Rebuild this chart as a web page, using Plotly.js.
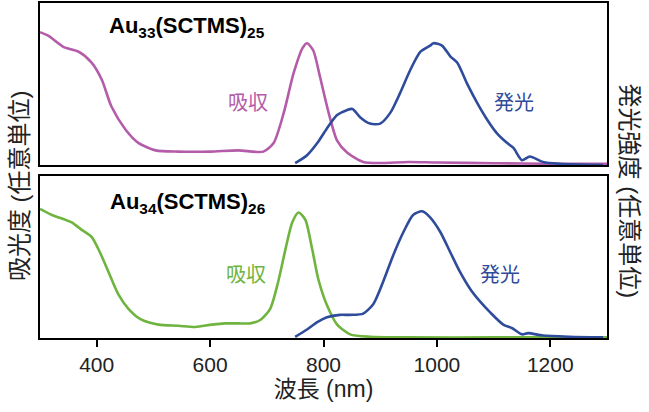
<!DOCTYPE html>
<html>
<head>
<meta charset="utf-8">
<script src="https://cdn.plot.ly/plotly-3.0.1.min.js"></script>
<style>
  html, body { margin: 0; padding: 0; background: #ffffff; }
  #chart { width: 649px; height: 412px; }
</style>
</head>
<body>
<div id="chart"></div>
<script>
// Au33(SCTMS)25 (top panel), normalised intensities
const au33AbsWl = [300, 315, 341, 368, 391, 409, 426, 451, 474, 504, 544, 600, 650, 694, 712, 730, 747, 763, 771, 782, 794, 809, 824, 842, 870, 900, 950, 1000, 1100, 1200, 1300];
const au33AbsVal = [1.09, 1.06, 0.97, 0.93, 0.84, 0.70, 0.48, 0.29, 0.18, 0.12, 0.11, 0.11, 0.12, 0.11, 0.18, 0.43, 0.75, 0.96, 1.00, 0.94, 0.72, 0.43, 0.20, 0.10, 0.025, 0.016, 0.025, 0.02, 0.015, 0.01, 0.01];
const au33EmWl = [750, 771, 789, 806, 824, 841, 851, 865, 882, 900, 918, 935, 953, 971, 988, 994, 1009, 1024, 1036, 1053, 1071, 1089, 1106, 1124, 1135, 1150, 1164, 1187, 1217, 1293];
const au33EmVal = [0.015, 0.08, 0.18, 0.30, 0.41, 0.45, 0.46, 0.39, 0.34, 0.34, 0.43, 0.59, 0.78, 0.93, 0.98, 1.00, 0.98, 0.89, 0.84, 0.67, 0.51, 0.37, 0.26, 0.18, 0.14, 0.04, 0.07, 0.025, 0.01, 0.0];

// Au34(SCTMS)26 (bottom panel)
const au34AbsWl = [300, 321, 345, 356, 373, 391, 406, 421, 438, 456, 479, 509, 544, 574, 603, 627, 650, 671, 689, 706, 720, 733, 745, 756, 768, 780, 791, 806, 824, 847, 882, 950, 1100, 1300];
const au34AbsVal = [1.06, 1.01, 0.97, 0.95, 0.89, 0.83, 0.70, 0.54, 0.36, 0.24, 0.15, 0.11, 0.10, 0.09, 0.11, 0.12, 0.12, 0.12, 0.15, 0.24, 0.46, 0.73, 0.95, 1.03, 0.97, 0.73, 0.48, 0.27, 0.11, 0.03, 0.01, 0.005, 0.005, 0.005];
const au34EmWl = [750, 771, 789, 806, 829, 847, 870, 888, 905, 923, 941, 958, 974, 988, 1006, 1024, 1041, 1059, 1076, 1094, 1117, 1133, 1150, 1161, 1187, 1234, 1293];
const au34EmVal = [0.01, 0.07, 0.13, 0.17, 0.19, 0.19, 0.20, 0.28, 0.46, 0.68, 0.87, 1.01, 1.04, 0.99, 0.87, 0.70, 0.54, 0.40, 0.30, 0.21, 0.11, 0.08, 0.03, 0.04, 0.02, 0.01, 0.005];

const xTicks = [400, 600, 800, 1000, 1200];

const COLORS = {
    ABS_TOP: '#B45CA9',
    ABS_BOTTOM: '#6FB43F',
    EMISSION: '#2F4B9B',
    TEXT: '#111111'
};
const FONT = 'Liberation Sans, Arial, Noto Sans CJK JP, sans-serif';

function curve(x, y, color, xa, ya) {
    return {
        x: x, y: y, xaxis: xa, yaxis: ya,
        type: 'scatter', mode: 'lines',
        line: { color: color, width: 2.6, shape: 'spline', smoothing: 0.7 },
        hoverinfo: 'skip', showlegend: false
    };
}

const frame = { showline: true, linecolor: '#000', linewidth: 2, mirror: true, showgrid: false, zeroline: false };

function label(xref, yref, x, y, text, size, color, angle) {
    return {
        xref: xref, yref: yref, x: x, y: y, text: text, showarrow: false,
        xanchor: 'center', yanchor: 'middle', textangle: angle || 0,
        font: { size: size, color: color }
    };
}

const traces = [
    curve(au33AbsWl, au33AbsVal, COLORS.ABS_TOP, 'x2', 'y2'),
    curve(au33EmWl, au33EmVal, COLORS.EMISSION, 'x2', 'y2'),
    curve(au34AbsWl, au34AbsVal, COLORS.ABS_BOTTOM, 'x', 'y'),
    curve(au34EmWl, au34EmVal, COLORS.EMISSION, 'x', 'y')
];

const layout = {
    width: 649, height: 412,
    margin: { l: 40, r: 42, t: 3, b: 74 },
    paper_bgcolor: '#fff', plot_bgcolor: '#fff',
    font: { family: FONT, color: COLORS.TEXT },
    xaxis: Object.assign({}, frame, {
        range: [300, 1300], tickvals: xTicks,
        ticks: 'outside', ticklen: 7, tickwidth: 1.5, tickcolor: '#000',
        tickfont: { size: 21, family: FONT, color: '#222' },
        title: { text: '波長 (nm)', font: { size: 23, family: FONT, color: '#222' }, standoff: 5 },
        anchor: 'y'
    }),
    yaxis: Object.assign({}, frame, { range: [0, 1.33], showticklabels: false, ticks: '', domain: [0, 0.4836] }),
    xaxis2: Object.assign({}, frame, { range: [300, 1300], showticklabels: false, ticks: '', anchor: 'y2' }),
    yaxis2: Object.assign({}, frame, { range: [0, 1.33], showticklabels: false, ticks: '', domain: [0.5164, 1] }),
    annotations: [
        label('x2', 'y2', 560, 1.13, '<b>Au<sub>33</sub>(SCTMS)<sub>25</sub></b>', 22, '#000'),
        label('x2', 'y2', 666, 0.51, '吸収', 20, COLORS.ABS_TOP),
        label('x2', 'y2', 1136, 0.51, '発光', 20, COLORS.EMISSION),
        label('x', 'y', 560, 1.11, '<b>Au<sub>34</sub>(SCTMS)<sub>26</sub></b>', 22, '#000'),
        label('x', 'y', 663, 0.52, '吸収', 20, COLORS.ABS_BOTTOM),
        label('x', 'y', 1112, 0.52, '発光', 20, COLORS.EMISSION),
        label('paper', 'paper', -0.035, 0.454, '吸光度 (任意単位)', 24, '#222', -90),
        label('paper', 'paper', 1.039, 0.44, '発光強度 (任意単位)', 24, '#222', 90)
    ]
};

Plotly.newPlot('chart', traces, layout, { displayModeBar: false });
</script>
</body>
</html>
